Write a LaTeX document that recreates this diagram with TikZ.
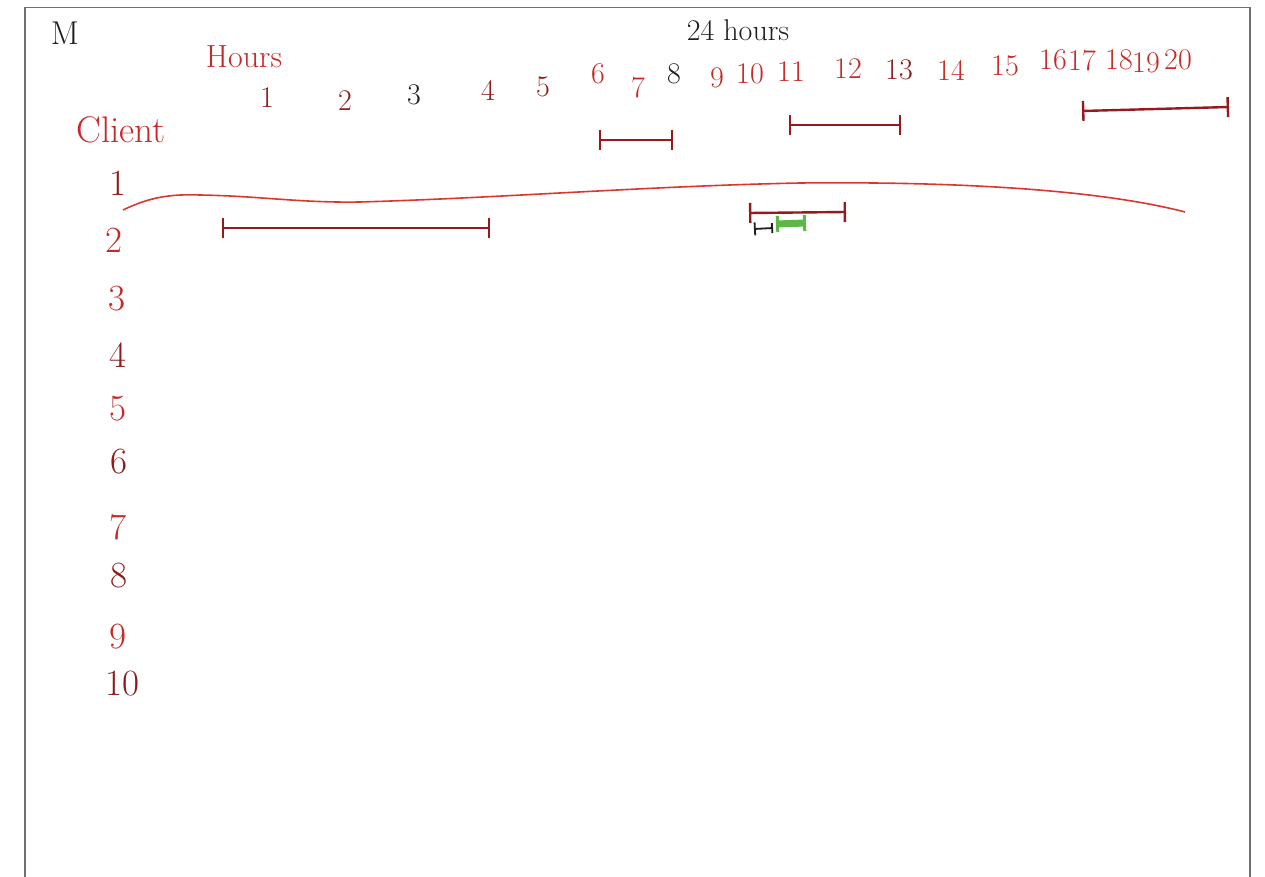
\documentclass[tikz,border=0pt]{standalone}
\usetikzlibrary{arrows.meta}
\definecolor{inkred}{HTML}{C62A28}
\definecolor{inkdark}{HTML}{8E1C1C}
\definecolor{inkblack}{HTML}{1E1E1E}
\definecolor{barred}{HTML}{961A1D}
\definecolor{curvered}{HTML}{D8392E}
\definecolor{greenink}{HTML}{5CB947}
\definecolor{framegray}{HTML}{707070}
\tikzset{
  hnum/.style={inner sep=0pt, font=\fontsize{30}{34}\selectfont},
  rnum/.style={inner sep=0pt, font=\fontsize{37}{40}\selectfont},
  span/.style={draw=barred, line width=2.4pt, {Bar[width=20pt,line width=2.4pt]}-{Bar[width=20pt,line width=2.4pt]}},
  smallspan/.style={draw=inkblack, line width=1.8pt, {Bar[width=13pt,line width=1.8pt]}-{Bar[width=10pt,line width=1.8pt]}},
  greenspan/.style={draw=greenink, line width=7pt, {Bar[width=16pt,line width=3pt]}-{Bar[width=16pt,line width=3pt]}},
}
\begin{document}
\begin{tikzpicture}[x=1pt,y=-1pt]
\useasboundingbox (0,0) rectangle (1265,877);
\fill[white] (0,0) rectangle (1265,877);
% frame (open at the bottom)
\draw[framegray, line width=1.3pt] (25,877) -- (25,7.5) -- (1250,7.5) -- (1250,877);

% titles
\node[inner sep=0pt, text=inkblack, font=\fontsize{33}{36}\selectfont] (m) at (65,33) {M};
\node[inner sep=0pt, text=inkred, font=\fontsize{32}{36}\selectfont] (hours) at (244,57) {Hours};
\node[inner sep=0pt, text=inkblack, font=\fontsize{30}{34}\selectfont] (day) at (738,30) {24 hours};
\node[inner sep=0pt, text=inkred, font=\fontsize{37}{40}\selectfont] (client) at (121,130) {Client};

% hour numbers
\node[hnum, text=inkdark]  (h1)  at (267,98) {1};
\node[hnum, text=inkdark]  (h2)  at (345,101) {2};
\node[hnum, text=inkblack] (h3)  at (414,95) {3};
\node[hnum, text=inkdark]  (h4)  at (488,90) {4};
\node[hnum, text=inkdark]  (h5)  at (543,87) {5};
\node[hnum, text=inkred]   (h6)  at (598,74) {6};
\node[hnum, text=inkred]   (h7)  at (638,88) {7};
\node[hnum, text=inkblack] (h8)  at (674,74) {8};
\node[hnum, text=inkred]   (h9)  at (717,78) {9};
\node[hnum, text=inkred]   (h10) at (750,74) {10};
\node[hnum, text=inkred]   (h11) at (791,72) {11};
\node[hnum, text=inkred]   (h12) at (848,69) {12};
\node[hnum, text=inkdark]  (h13) at (899,70) {13};
\node[hnum, text=inkred]   (h14) at (951,70) {14};
\node[hnum, text=inkred]   (h15) at (1005,66) {15};
\node[hnum, text=inkred]   (h16) at (1053,60) {16};
\node[hnum, text=inkred]   (h17) at (1082,61) {17};
\node[hnum, text=inkred]   (h18) at (1119,60) {18};
\node[hnum, text=inkred]   (h19) at (1146,63) {19};
\node[hnum, text=inkred]   (h20) at (1178,60) {20};

% client numbers
\node[rnum, text=inkdark] (c1)  at (118,183) {1};
\node[rnum, text=inkred]  (c2)  at (114,240) {2};
\node[rnum, text=inkred]  (c3)  at (117,299) {3};
\node[rnum, text=inkdark] (c4)  at (118,355) {4};
\node[rnum, text=inkred]  (c5)  at (118,409) {5};
\node[rnum, text=inkdark] (c6)  at (119,462) {6};
\node[rnum, text=inkred]  (c7)  at (118,527) {7};
\node[rnum, text=inkdark] (c8)  at (119,576) {8};
\node[rnum, text=inkred]  (c9)  at (118,637) {9};
\node[rnum, text=inkdark] (c10) at (122,684) {10};

% span end points
\coordinate (a1) at (599,140);  \coordinate (a2) at (673,140);
\coordinate (b1) at (789,125);  \coordinate (b2) at (901,125);
\coordinate (d1) at (1082,111); \coordinate (d2) at (1229,107);
\coordinate (e1) at (222,228);  \coordinate (e2) at (490,228);
\coordinate (f1) at (749,213);  \coordinate (f2) at (846,212);
\coordinate (g1) at (754,229);  \coordinate (g2) at (773,228);
\coordinate (k1) at (776,224);  \coordinate (k2) at (806,223);
\coordinate (l1) at (123,210);  \coordinate (l2) at (1185,212);

% spans
\draw[span] (a1) -- (a2);
\draw[span] (b1) -- (b2);
\draw[span] (d1) -- (d2);
\draw[span] (e1) -- (e2);
\draw[span] (f1) -- (f2);
\draw[smallspan] (g1) -- (g2);
\draw[greenspan] (k1) -- (k2);

% long line of client 1
\draw[curvered, line width=1.6pt] (l1) .. controls (150,197) and (170,194) .. (200,195)
  .. controls (260,196) and (300,203) .. (360,202)
  .. controls (500,198) and (650,186) .. (800,183)
  .. controls (1000,181) and (1120,195) .. (l2);
\end{tikzpicture}
\end{document}
